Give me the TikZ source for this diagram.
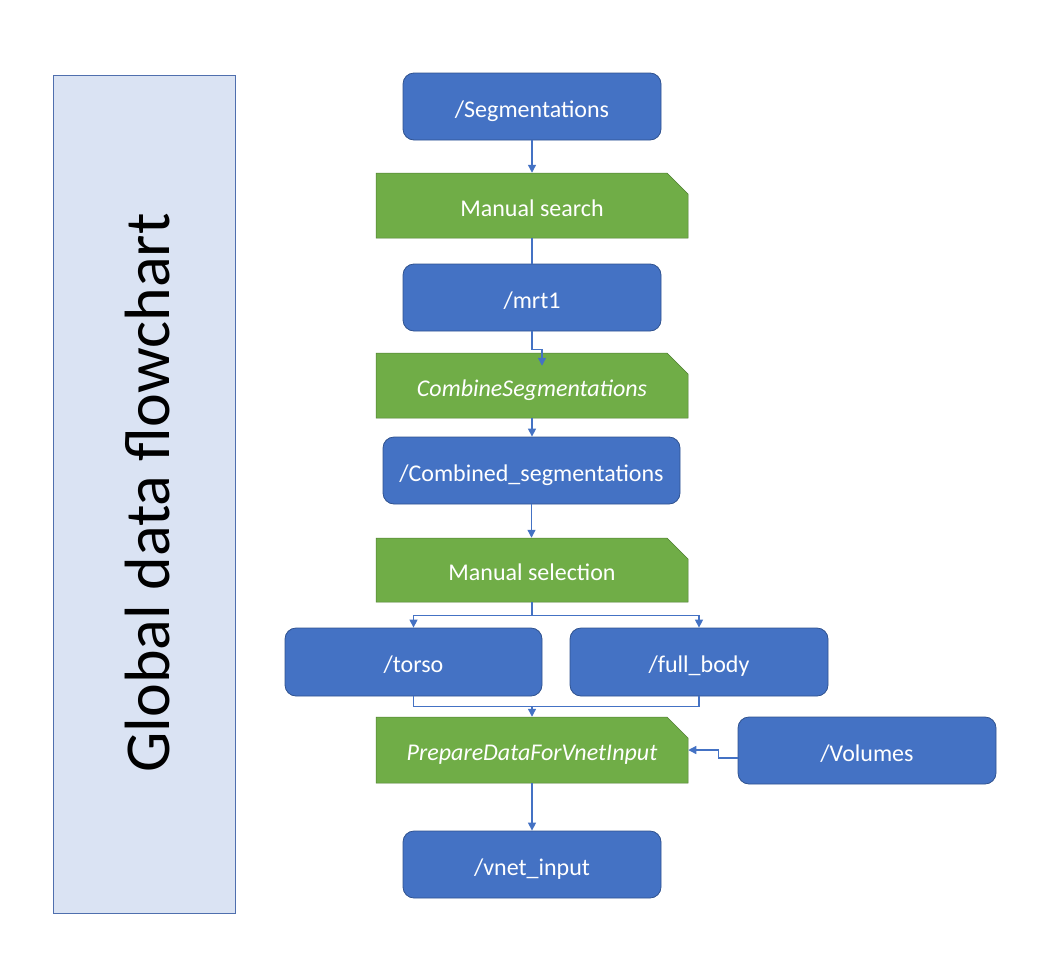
\documentclass[tikz,border=0pt]{standalone}
\usepackage{fontspec}
\setmainfont{Carlito}
\usetikzlibrary{shapes.misc,arrows.meta,calc}
\definecolor{boxblue}{HTML}{4472C4}
\definecolor{boxblueedge}{HTML}{2F528F}
\definecolor{boxgreen}{HTML}{70AD47}
\definecolor{boxgreenedge}{HTML}{507E32}
\definecolor{panelfill}{HTML}{DAE3F3}
\definecolor{paneledge}{HTML}{4F6FAE}
\definecolor{linkblue}{HTML}{4472C4}
\tikzset{
  x=1pt, y=-1pt,
  databox/.style={draw=boxblueedge, line width=0.8pt, fill=boxblue, rounded corners=11pt,
    text=white, font=\fontsize{24}{28}\selectfont, inner sep=0pt,
    text height=26pt, text depth=4.6pt,
    minimum width=258pt, minimum height=67pt},
  procbox/.style={chamfered rectangle, chamfered rectangle corners=north east,
    chamfered rectangle xsep=11pt, chamfered rectangle ysep=10pt,
    draw=boxgreenedge, line width=0.5pt, fill=boxgreen,
    text=white, font=\fontsize{24}{28}\selectfont, inner sep=0pt,
    text height=26pt, text depth=4.6pt,
    minimum width=312pt, minimum height=65pt},
  link/.style={draw=linkblue, line width=1.3pt},
  arrowlink/.style={link, -{Triangle[length=8pt,width=8pt]}},
}
\begin{document}
\begin{tikzpicture}
\useasboundingbox (0,0) rectangle (1043,972);

% left panel
\node[draw=paneledge, line width=0.8pt, fill=panelfill, minimum width=182pt, minimum height=838pt, inner sep=0pt] (panel) at (144,494) {};
\node[rotate=90, anchor=base, font=\fontsize{64}{70}\selectfont, inner sep=0pt] (title) at (169,493) {Global data flowchart};

% nodes
\node[databox] (seg) at (532,106.5) {/Segmentations};
\node[procbox] (ms) at (532,205.5) {Manual search};
\node[databox] (mrt) at (532,297.5) {/mrt1};
\node[procbox] (cs) at (532,385.5) {\itshape CombineSegmentations};
\node[databox, minimum width=297pt] (comb) at (531.5,470.5) {/Combined\_segmentations};
\node[procbox, minimum height=64pt] (msel) at (532,570) {Manual selection};
\node[databox, minimum width=257pt, minimum height=68pt] (torso) at (413.5,662) {/torso};
\node[databox, minimum height=68pt] (full) at (699,662) {/full\_body};
\node[procbox, minimum height=66pt] (prep) at (532,750) {\itshape PrepareDataForVnetInput};
\node[databox] (vol) at (867,750.5) {/Volumes};
\node[databox] (vnet) at (532,864.5) {/vnet\_input};

% helper coordinates
\coordinate (csin) at ($(cs.north)+(10,13)$);
\coordinate (split) at ($(msel.south)+(0,13)$);
\coordinate (merge) at ($(prep.north)+(0,-10)$);
\coordinate (volout) at ($(vol.west)+(0,7.5)$);

% connectors
\draw[arrowlink] (seg.south) -- (seg.south |- ms.north);
\draw[link] (ms.south) -- (ms.south |- mrt.north);
\draw[arrowlink] (mrt.south) -- ++(0,18) -| (csin);
\draw[arrowlink] (cs.south) -- (cs.south |- comb.north);
\draw[arrowlink] (comb.south) -- (comb.south |- msel.north);
\draw[link] (msel.south) -- (split);
\draw[arrowlink] (split) -| (torso.north);
\draw[arrowlink] (split) -| (full.north);
\draw[link] (torso.south) |- (merge) -| (full.south);
\draw[arrowlink] (merge) -- (prep.north);
\draw[arrowlink] (volout) -- ++(-19,0) |- (prep.east);
\draw[arrowlink] (prep.south) -- (prep.south |- vnet.north);
\end{tikzpicture}
\end{document}
